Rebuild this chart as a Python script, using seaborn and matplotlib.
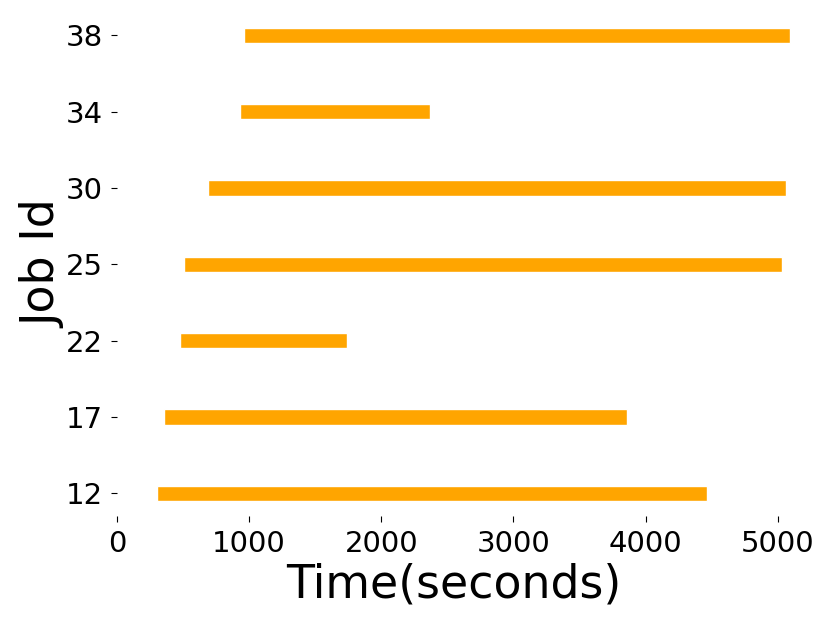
import matplotlib
matplotlib.use("Agg")
import matplotlib.pyplot as plt
import seaborn as sns
import pandas as pd

job_ids = ["12", "17", "22", "25", "30", "34", "38"]
start_times = [302, 355, 476, 506, 688, 930, 960]
end_times = [4465, 3862, 1738, 5034, 5064, 2366, 5094]

df = pd.DataFrame({"job": job_ids, "start": start_times, "end": end_times})
df["duration"] = df["end"] - df["start"]

sns.set_style("white")
plt.rcParams["font.family"] = ["DejaVu Sans"]
plt.rcParams["text.color"] = "black"
plt.rcParams["axes.labelcolor"] = "black"
plt.rcParams["xtick.color"] = "black"
plt.rcParams["ytick.color"] = "black"

fig = plt.figure(figsize=(8.3, 6.25), dpi=100)
ax = fig.add_axes([0.141, 0.174, 0.812, 0.806])

pos = list(range(len(df)))
ax.barh(pos, df["duration"], left=df["start"], height=0.2, color="orange")

ax.set_yticks(pos)
ax.set_yticklabels(df["job"])
ax.set_ylim(-0.3, len(pos) - 1 + 0.3)
ax.set_xlim(0, 5100)
ax.set_xticks([0, 1000, 2000, 3000, 4000, 5000])

ax.tick_params(axis="both", labelsize=21, length=4, width=0.8,
               left=True, bottom=True, pad=6)
ax.set_xlabel("Time(seconds)", fontsize=33, labelpad=3)
ax.set_ylabel("Job Id", fontsize=33, labelpad=0)
sns.despine(ax=ax, left=True, bottom=True, right=True, top=True)

fig.savefig("out.png", dpi=100)
